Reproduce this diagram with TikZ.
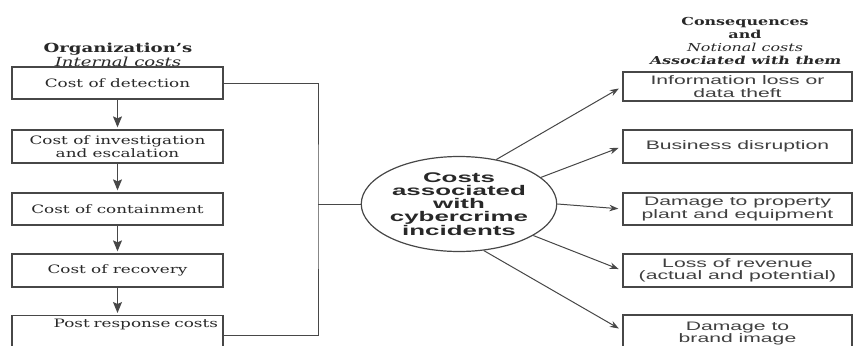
\documentclass[tikz,border=0pt]{standalone}
\usepackage{fontspec}
\setmainfont{DejaVu Serif}[FakeStretch=1.45]
\newfontfamily\slbf{DejaVu Serif}[FakeStretch=1.45, FakeSlant=0.2]
\newfontfamily\sansw{Liberation Sans}[FakeStretch=1.72]
\newfontfamily\sansb{Liberation Sans}[FakeStretch=1.85]
\usetikzlibrary{arrows.meta,shapes.geometric}
\definecolor{ln}{HTML}{474747}
\definecolor{txt}{HTML}{282828}
\definecolor{stxt}{HTML}{404040}
\begin{document}
\begin{tikzpicture}[x=1pt,y=-1pt,
  lbox/.style={draw=ln, line width=1.3pt, minimum width=211pt, minimum height=32pt, inner sep=2pt, align=center, font=\fontsize{11.6}{13}\selectfont, text=txt},
  rbox/.style={draw=ln, line width=1.3pt, minimum width=229pt, minimum height=31pt, inner sep=1pt, align=center, font=\sansw\fontsize{12.3}{12.5}\selectfont, text=stxt},
  conn/.style={draw=ln, line width=1pt},
  darr/.style={conn, -{Stealth[length=11pt,width=9pt,inset=2pt]}, shorten >=2pt},
  rarr/.style={conn, -{Stealth[length=9pt,width=6.5pt]}, shorten >=4pt}]
\useasboundingbox (0,0) rectangle (853,345);
\clip (0,0) rectangle (853,345);
% headings
\node[font=\bfseries\fontsize{12.5}{14}\selectfont, align=center, text=txt] (h1) at (118,55) {Organization’s\\\textit{\mdseries Internal costs}};
\node[font=\bfseries\fontsize{11}{13.3}\selectfont, align=center, text=txt] (h2) at (745,41) {Consequences\\and\\\textit{\mdseries Notional costs}\\{\slbf\bfseries Associated with them}};
% left boxes
\node[lbox] (b1) at (117.5,83) {Cost of detection};
\node[lbox, minimum height=33pt] (b2) at (117.5,146.5) {Cost of investigation\\and escalation};
\node[lbox] (b3) at (117.5,209) {Cost of containment};
\node[lbox, minimum height=33pt] (b4) at (117.5,270.5) {Cost of recovery};
\node[lbox, anchor=north, text width=201pt, align=right, inner xsep=5pt, inner ysep=3pt, text height=9pt, text depth=24pt] (b5) at (117.5,315) {Post response costs};
% ellipse
\node[draw=ln, line width=1.2pt, ellipse, minimum width=195pt, minimum height=95pt, inner sep=0pt, align=center, font=\sansb\bfseries\fontsize{14}{13}\selectfont, text=txt] (ell) at (459,204) {Costs\\associated\\with\\cybercrime\\incidents};
% right boxes
\node[rbox, minimum height=29pt] (r1) at (737.5,86.5) {Information loss or\\data theft};
\node[rbox, minimum height=33pt] (r2) at (737.5,146.5) {Business disruption};
\node[rbox, minimum height=32pt] (r3) at (737.5,209) {Damage to property\\plant and equipment};
\node[rbox, minimum height=33pt] (r4) at (737.5,270.5) {Loss of revenue\\(actual and potential)};
\node[rbox, minimum height=37pt] (r5) at (737.5,333.5) {Damage to\\brand image};
% left chain
\draw[darr] (b1) -- (b2);
\draw[darr] (b2) -- (b3);
\draw[darr] (b3) -- (b4);
\draw[darr] (b4.south) -- (b5.north);
% bracket
\coordinate (jx) at (318,204);
\draw[conn] (b1.east) -| (jx) |- (b5.east);
\draw[conn] (jx) -- (ell.west);
% right arrows
\draw[rarr] (ell.50) -- (r1.west);
\draw[rarr] (ell.18) -- (r2.west);
\draw[rarr] (ell.east) -- (r3.west);
\draw[rarr] (ell.-23) -- (r4.west);
\draw[rarr] (ell.-62) -- ([yshift=3pt]r5.west);
\end{tikzpicture}
\end{document}
